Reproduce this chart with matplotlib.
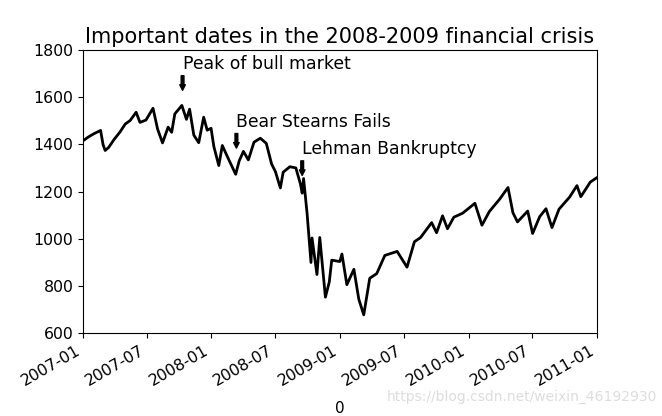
import matplotlib
matplotlib.use("Agg")
import matplotlib.pyplot as plt
import matplotlib.dates as mdates
import pandas as pd
from datetime import datetime

dates = ["2007-01-03","2007-01-16","2007-02-01","2007-02-20","2007-02-27","2007-03-05","2007-03-15","2007-03-30",
         "2007-04-16","2007-05-01","2007-05-15","2007-06-01","2007-06-12","2007-06-29","2007-07-19","2007-08-01",
         "2007-08-15","2007-08-31","2007-09-10","2007-09-19","2007-10-09","2007-10-22","2007-10-31","2007-11-12",
         "2007-11-26","2007-12-10","2007-12-20","2007-12-31","2008-01-08","2008-01-22","2008-02-01","2008-02-15",
         "2008-03-10","2008-03-20","2008-04-01","2008-04-15","2008-05-01","2008-05-19","2008-06-05","2008-06-20",
         "2008-07-01","2008-07-15","2008-07-23","2008-08-11","2008-08-28","2008-09-10","2008-09-15","2008-09-19",
         "2008-09-29","2008-10-10","2008-10-13","2008-10-27","2008-11-04","2008-11-20","2008-12-01","2008-12-08",
         "2008-12-31","2009-01-06","2009-01-20","2009-02-09","2009-02-23","2009-03-09","2009-03-26","2009-04-15",
         "2009-05-08","2009-06-12","2009-07-10","2009-07-31","2009-08-17","2009-09-18","2009-10-02","2009-10-19",
         "2009-11-02","2009-11-20","2009-12-15","2010-01-19","2010-02-08","2010-03-01","2010-03-31","2010-04-23",
         "2010-05-07","2010-05-20","2010-06-18","2010-07-02","2010-07-22","2010-08-09","2010-08-26","2010-09-15",
         "2010-10-15","2010-11-05","2010-11-16","2010-12-13","2010-12-31"]
values = [1417,1431,1445,1459,1399,1374,1387,1420,
          1452,1486,1501,1536,1493,1503,1553,1465,
          1406,1473,1451,1529,1565,1506,1549,1439,
          1407,1515,1460,1468,1390,1310,1395,1349,
          1273,1330,1370,1334,1409,1426,1404,1317,
          1284,1215,1282,1305,1300,1232,1193,1255,
          1106,899,1003,848,1005,752,816,909,
          903,935,805,870,743,677,832,852,
          929,946,879,987,1004,1068,1025,1097,
          1042,1091,1108,1150,1057,1115,1169,1217,
          1110,1071,1117,1022,1093,1127,1047,1125,
          1176,1225,1178,1240,1258]

crisis_dates = ["2007-10-11", "2008-03-12", "2008-09-15"]
crisis_levels = [1554, 1309, 1193]
crisis_labels = ["Peak of bull market", "Bear Stearns Fails", "Lehman Bankruptcy"]

spx = pd.Series(values, index=pd.to_datetime(dates))

fig = plt.figure(figsize=(6.62, 4.16), dpi=100)
ax = fig.add_axes([83/662, 1 - 333/416, 514/662, 283/416])
ax.plot(spx.index, spx.values, 'k-', lw=2.0)

for d, lvl, lab in zip(crisis_dates, crisis_levels, crisis_labels):
    dt = pd.Timestamp(d)
    ax.annotate(lab, xy=(dt, lvl + 75), xytext=(dt, lvl + 225),
                arrowprops=dict(facecolor='black', headwidth=4, width=2, headlength=4),
                horizontalalignment='left', verticalalignment='top', fontsize=12.4)

ax.set_xlim([datetime(2007, 1, 1), datetime(2011, 1, 1)])
ax.set_ylim([600, 1800])
ax.xaxis.set_major_locator(mdates.MonthLocator(bymonth=[1, 7]))
ax.xaxis.set_major_formatter(mdates.DateFormatter('%Y-%m'))
ax.tick_params(labelsize=11.3)
for t in ax.get_xticklabels():
    t.set_rotation(30)
    t.set_ha('right')
ax.set_title('Important dates in the 2008-2009 financial crisis', fontsize=15, pad=5)
ax.set_xlabel('0', fontsize=11, labelpad=9)
fig.text(0.992, 0.045, 'https://blog.csdn.net/weixin_46192930', ha='right', va='center',
         fontsize=10, color='#dddddd')
fig.savefig('out.png', dpi=100)
